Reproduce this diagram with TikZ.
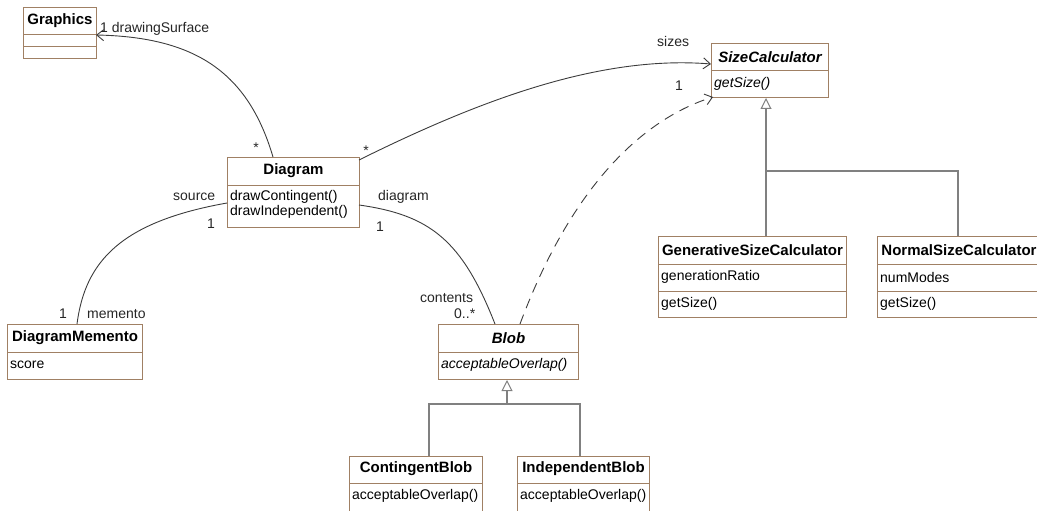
\documentclass[tikz,border=0pt]{standalone}
\usepackage{fontspec}
\setmainfont{Liberation Sans}
\usetikzlibrary{arrows.meta}
\definecolor{boxedge}{RGB}{160,128,100}
\definecolor{assocline}{RGB}{60,60,60}
\definecolor{genline}{RGB}{128,128,128}

\begin{document}
\begin{tikzpicture}[x=1pt,y=-1pt,
  umlbox/.style={draw=boxedge, line width=1pt, fill=white, inner sep=0pt, anchor=north west},
  divider/.style={draw=boxedge, line width=1pt},
  classname/.style={font=\fontsize{15}{17}\selectfont\bfseries, inner sep=0pt},
  absname/.style={font=\fontsize{15}{17}\selectfont\bfseries\itshape, inner sep=0pt},
  member/.style={font=\fontsize{14}{16}\selectfont, inner sep=0pt, anchor=west},
  absmember/.style={member, font=\fontsize{14}{16}\selectfont\itshape},
  rolelabel/.style={font=\fontsize{14}{16}\selectfont, inner sep=0pt, text=black!85},
  assoc/.style={draw=assocline, line width=0.9pt},
  navarrow/.style={-{Straight Barb[length=7pt, width=11pt, line width=0.9pt]}},
  depend/.style={assoc, dash pattern=on 10pt off 7pt},
  gen/.style={draw=genline, line width=1.6pt},
  genhead/.style={-{Triangle[open, length=11pt, width=11pt, line width=1pt, fill=white]}},
]
\useasboundingbox (0,0) rectangle (1037,511);

% ---------- classes ----------
% Graphics
\node[umlbox, minimum width=73pt, minimum height=51pt] (graphics) at (23,7) {};
\node[classname] at (graphics.north |- 0,21) {Graphics};
\draw[divider] (graphics.west |- 0,35) -- (graphics.east |- 0,35);
\draw[divider] (graphics.west |- 0,47) -- (graphics.east |- 0,47);

% Diagram
\node[umlbox, minimum width=132pt, minimum height=70pt] (diagram) at (227,157) {};
\node[classname] at (diagram.north |- 0,171) {Diagram};
\draw[divider] (diagram.west |- 0,185) -- (diagram.east |- 0,185);
\node[member] at (230,197) {drawContingent()};
\node[member] at (230,212) {drawIndependent()};

% DiagramMemento
\node[umlbox, minimum width=135pt, minimum height=55pt] (memento) at (7,324) {};
\node[classname] at (memento.north |- 0,338) {DiagramMemento};
\draw[divider] (memento.west |- 0,352) -- (memento.east |- 0,352);
\node[member] at (10,365) {score};

% Blob
\node[umlbox, minimum width=140pt, minimum height=55pt] (blob) at (438,324) {};
\node[absname] at (blob.north |- 0,338) {Blob};
\draw[divider] (blob.west |- 0,352) -- (blob.east |- 0,352);
\node[absmember] at (441,365) {acceptableOverlap()};

% ContingentBlob
\node[umlbox, minimum width=133pt, minimum height=60pt] (contingent) at (349,456) {};
\node[classname] at (contingent.north |- 0,469) {ContingentBlob};
\draw[divider] (contingent.west |- 0,483) -- (contingent.east |- 0,483);
\node[member] at (352,496) {acceptableOverlap()};

% IndependentBlob
\node[umlbox, minimum width=132pt, minimum height=60pt] (independent) at (517,456) {};
\node[classname] at (independent.north |- 0,469) {IndependentBlob};
\draw[divider] (independent.west |- 0,483) -- (independent.east |- 0,483);
\node[member] at (520,496) {acceptableOverlap()};

% SizeCalculator
\node[umlbox, minimum width=117pt, minimum height=54pt] (sizecalc) at (711,43) {};
\node[absname] at (sizecalc.north |- 0,57) {SizeCalculator};
\draw[divider] (sizecalc.west |- 0,71) -- (sizecalc.east |- 0,71);
\node[absmember] at (714,84) {getSize()};

% GenerativeSizeCalculator
\node[umlbox, minimum width=188pt, minimum height=81pt] (generative) at (658,236) {};
\node[classname] at (generative.north |- 0,250) {GenerativeSizeCalculator};
\draw[divider] (generative.west |- 0,264) -- (generative.east |- 0,264);
\draw[divider] (generative.west |- 0,291) -- (generative.east |- 0,291);
\node[member] at (661,277) {generationRatio};
\node[member] at (661,304) {getSize()};

% NormalSizeCalculator
\node[umlbox, minimum width=163pt, minimum height=81pt] (normal) at (877,236) {};
\node[classname] at (normal.north |- 0,250) {NormalSizeCalculator};
\draw[divider] (normal.west |- 0,264) -- (normal.east |- 0,264);
\draw[divider] (normal.west |- 0,291) -- (normal.east |- 0,291);
\node[member] at (880,277) {numModes};
\node[member] at (880,304) {getSize()};

% ---------- associations ----------
\coordinate (dgTop) at (273,157);
\coordinate (dgCorner) at (359,160);
\coordinate (dgLeft) at (227,203);
\coordinate (dgRight) at (359,205);
\coordinate (gfxEnd) at (96,35);
\coordinate (scLeft) at (711,64);
\coordinate (scFoot) at (713,97);
\coordinate (memTop) at (77,324);
\coordinate (blobTopL) at (495,324);
\coordinate (blobTopR) at (520,324);

\draw[assoc, navarrow] (dgTop) .. controls (248,72) and (195,37) .. (gfxEnd);
\draw[assoc, navarrow] (dgCorner) .. controls (480,100) and (600,55) .. (scLeft);
\draw[assoc] (dgLeft) .. controls (120,222) and (85,262) .. (memTop);
\draw[assoc] (dgRight) .. controls (430,215) and (462,240) .. (blobTopL);
\draw[depend, navarrow] (blobTopR) .. controls (570,190) and (640,120) .. (scFoot);

% role names and multiplicities
\node[rolelabel, anchor=west] at (100,29) {1 drawingSurface};
\node[rolelabel] at (256,148) {*};
\node[rolelabel] at (366,151) {*};
\node[rolelabel, anchor=west] at (657,41) {sizes};
\node[rolelabel] at (679,86) {1};
\node[rolelabel, anchor=west] at (173,197) {source};
\node[rolelabel] at (211,224) {1};
\node[rolelabel] at (63,314) {1};
\node[rolelabel, anchor=west] at (87,314) {memento};
\node[rolelabel, anchor=west] at (378,197) {diagram};
\node[rolelabel] at (380,227) {1};
\node[rolelabel, anchor=west] at (420,298) {contents};
\node[rolelabel, anchor=west] at (454,314) {0..*};

% ---------- generalizations ----------
\coordinate (blobJoin) at (507,404);
\coordinate (cbDrop) at (429,404);
\coordinate (ibDrop) at (580,404);
\draw[gen] (contingent.north -| cbDrop) -- (cbDrop) -- (ibDrop) -- (independent.north -| ibDrop);
\draw[gen, genhead] (blobJoin) -- (blob.south -| blobJoin);

\coordinate (scJoin) at (766,171);
\coordinate (nsDrop) at (958,171);
\draw[gen] (generative.north -| scJoin) -- (scJoin) -- (nsDrop) -- (normal.north -| nsDrop);
\draw[gen, genhead] (scJoin) -- (sizecalc.south -| scJoin);
\end{tikzpicture}
\end{document}
